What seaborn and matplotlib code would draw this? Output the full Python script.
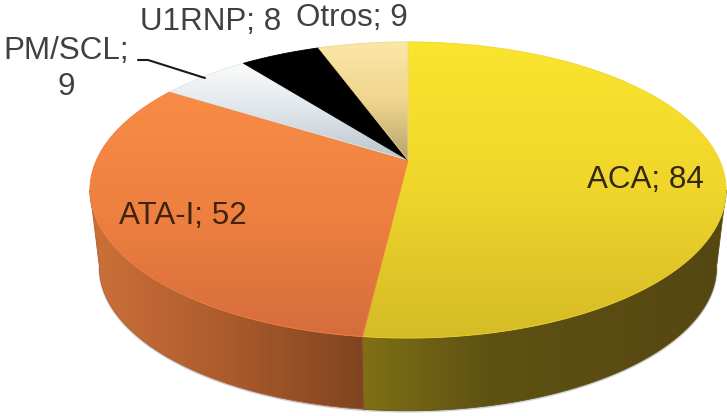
import numpy as np
import matplotlib
matplotlib.use("Agg")
import matplotlib.pyplot as plt
from matplotlib.patches import Polygon
import seaborn as sns

# Antibody counts
labels = ["ACA", "ATA-I", "PM/SCL", "U1RNP", "Otros"]
values = [84, 52, 9, 8, 9]

# Per-slice shading, from the upper end of the face to the lower end
top_colors = [
    ["#FAE52F", "#F0D52B", "#D5BB26"],
    ["#F88C46", "#EE8040", "#D56D3C"],
    ["#FBFBFB", "#DFE6EB", "#B8C4CB"],
    ["#000000", "#000000", "#000000"],
    ["#FCE7A8", "#EFD68E", "#B7A26C"],
]
# Rim shading, left to right; only the two front slices show a rim
side_colors = [
    ["#7F7015", "#5F5213", "#5A4C12", "#554711"],
    ["#CC7039", "#AC5B2D", "#7E4420"],
]

# Perspective of the tilted disc, in figure pixels
APEX_X, APEX_Y = 408.0, 160.0
SCALE_X, SCALE_Y, TILT = 311.5, 142.0, 0.2027
DEPTH, BASE_SHRINK = 78.0, 0.97

# Where the outline of the disc turns: the rim is visible between these angles
TURN = np.degrees(np.arcsin(TILT))
FRONT = (180 + TURN, 360 - TURN)


def project(theta_deg, base=False):
    t = np.radians(theta_deg)
    x, y = np.cos(t), np.sin(t)
    w = 1 + TILT * y
    sx, sy = SCALE_X * x / w, SCALE_Y * y / w
    if base:
        return APEX_X + BASE_SHRINK * sx, APEX_Y + DEPTH - BASE_SHRINK * sy
    return APEX_X + sx, APEX_Y - sy


def shaded_polygon(ax, pts, colors, horizontal, zorder):
    pts = np.asarray(pts)
    cmap = sns.blend_palette(colors, as_cmap=True)
    (x0, y0), (x1, y1) = pts.min(axis=0), pts.max(axis=0)
    ramp = np.linspace(0, 1, 256)
    grad = ramp[None, :] if horizontal else ramp[:, None]
    img = ax.imshow(grad, cmap=cmap, vmin=0, vmax=1, extent=(x0, x1, y1, y0),
                    origin="upper", aspect="auto", interpolation="bilinear",
                    zorder=zorder)
    img.set_clip_path(Polygon(pts, closed=True, transform=ax.transData))
    # Soft outline hides the stair-steps of the clipped image
    ax.add_patch(Polygon(pts, closed=True, fill=False, edgecolor=colors[1],
                         linewidth=0.6, zorder=zorder + 0.1))


sns.set_theme(style="white")
plt.rcParams["font.family"] = ["Liberation Sans", "DejaVu Sans"]

fig = plt.figure(figsize=(7.27, 4.16), dpi=100, facecolor="white")
ax = fig.add_axes([0, 0, 1, 1])

wedges, _ = ax.pie(values, startangle=90, counterclock=False,
                   colors=[c[1] for c in top_colors])
spans = [(w.theta1 % 360, (w.theta1 % 360) + (w.theta2 - w.theta1)) for w in wedges]
for w in wedges:
    w.remove()

# Rim of the disc, with a faint shadow along its lower edge
for i, colors in enumerate(side_colors):
    t1, t2 = spans[i]
    lo = [max(t1 + k, FRONT[0]) for k in (0, 360)]
    hi = [min(t2 + k, FRONT[1]) for k in (0, 360)]
    for a, b in zip(lo, hi):
        if b <= a:
            continue
        arc = np.linspace(a, b, 200)
        tx, ty = project(arc)
        bx, by = project(arc, base=True)
        rim = np.r_[np.c_[tx, ty], np.c_[bx, by][::-1]]
        shaded_polygon(ax, rim, colors, True, 1 + i * 0.2)
        ax.plot(bx, by + 0.8, color="#7F8794", linewidth=1.6, alpha=0.35, zorder=0.5)

# Top faces
for i, (t1, t2) in enumerate(spans):
    arc = np.linspace(t1, t2, 200)
    tx, ty = project(arc)
    face = np.r_[[[APEX_X, APEX_Y]], np.c_[tx, ty]]
    shaded_polygon(ax, face, top_colors[i], False, 3 + i * 0.2)

ax.set_aspect("auto")
ax.set_xlim(0, 727)
ax.set_ylim(416, 0)
ax.set_axis_off()

# Data labels
FONT = 22.6
TEXT_DARK = "#33280F"
TEXT_GRAY = "#404040"
placements = [(645, 180, TEXT_DARK), (183, 216, "#40220F"), (66, 69, TEXT_GRAY),
              (211, 22, TEXT_GRAY), (352, 18, TEXT_GRAY)]
for i, (name, val) in enumerate(zip(labels, values)):
    x, y, col = placements[i]
    txt = f"{name}; {val}" if name != "PM/SCL" else f"{name};\n{val}"
    ax.text(x, y, txt, ha="center", va="center", fontsize=FONT, color=col,
            zorder=10, linespacing=1.25)

# Leader line from the PM/SCL label to the rim of its slice
mid = sum(spans[2]) / 2
ex, ey = project(mid)
ax.plot([138, 148, ex], [60, 60, ey + 2], color="#1A1A1A", linewidth=1.5, zorder=9)

fig.savefig("out.png", dpi=100, facecolor="white")
